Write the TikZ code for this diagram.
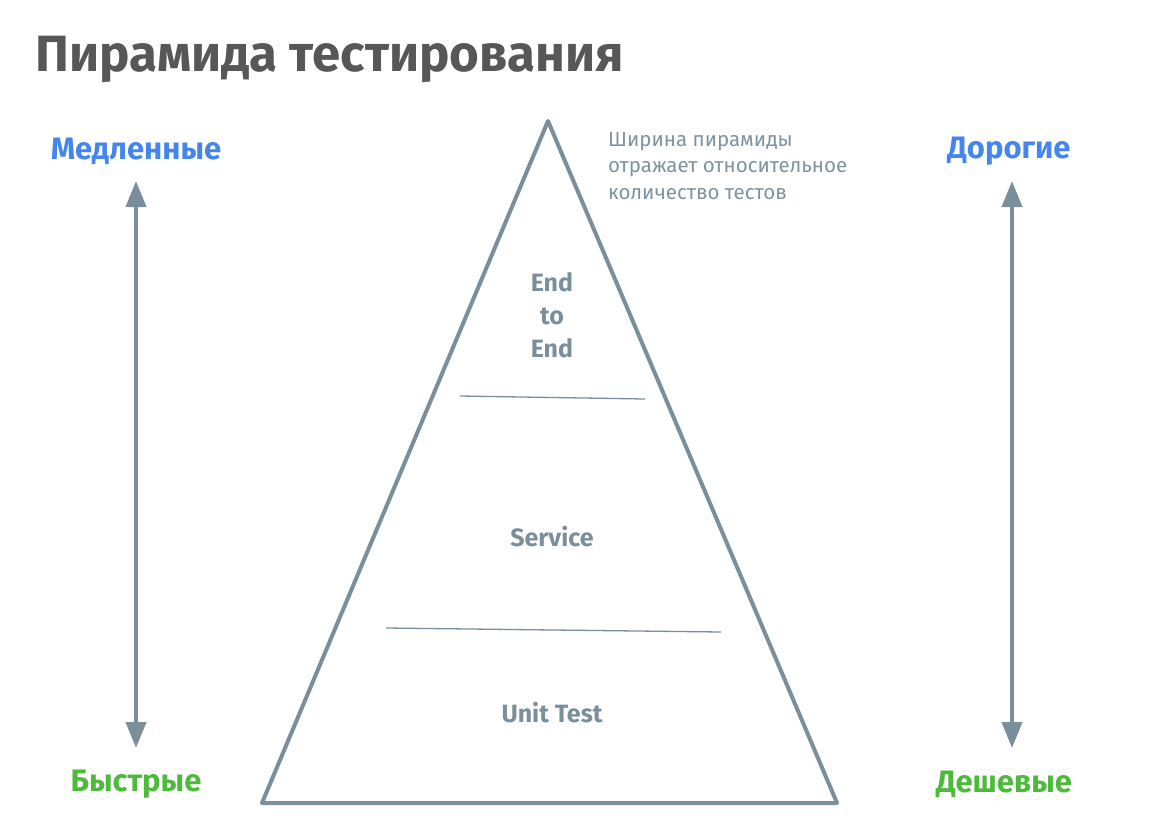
\documentclass[tikz,border=0pt]{standalone}
\usepackage{fontspec}
\setmainfont{Fira Sans}
\usepackage{tikz}
\usetikzlibrary{arrows.meta,positioning}
\definecolor{TGray}{HTML}{575757}
\definecolor{TBlue}{HTML}{4485F0}
\definecolor{TGreen}{HTML}{4DBA3B}
\definecolor{Slate}{HTML}{7A8F9B}
\definecolor{Note}{HTML}{7F929E}

\begin{document}
\begin{tikzpicture}[x=1pt,y=-1pt,
  lbl/.style={font=\fontsize{31}{34}\selectfont\bfseries},
  lvl/.style={text=Slate,font=\fontsize{25}{33}\selectfont\bfseries,align=center},
  axis/.style={Slate,line width=4pt,{Triangle[width=20pt,length=26pt]}-{Triangle[width=20pt,length=26pt]}}]
\useasboundingbox (0,0) rectangle (1165,836);
\node[TGray,anchor=base west,inner sep=0pt,font=\fontsize{51}{60}\selectfont\bfseries] (title) at (35,71) {Пирамида тестирования};
% pyramid
\coordinate (apex) at (548,121);
\coordinate (bl) at (262,803);
\coordinate (br) at (837,803);
\draw[Slate,line width=4pt,line join=round] (apex) -- (br) -- (bl) -- cycle;
\draw[Slate,line width=1.3pt] (460,396) -- (645,399);
\draw[Slate,line width=1.3pt] (386,628) -- (721,632);
\node[lvl] (e2e) at (552,315) {End\\to\\End};
\node[lvl] (svc) at (552,537) {Service};
\node[lvl] (unit) at (552,713) {Unit Test};
\node[Note,anchor=north west,align=left,inner sep=0pt,font=\fontsize{20.5}{26.5}\selectfont] (note) at (608,132) {Ширина пирамиды\\отражает относительное\\количество тестов};
% speed axis
\node[lbl,TBlue] (slow) at (136,151) {Медленные};
\node[lbl,TGreen] (fast) at (136,784) {Быстрые};
\coordinate (s1) at (136,181);
\coordinate (s2) at (136,748);
\draw[axis] (s2) -- (s1);
% cost axis
\node[lbl,TBlue] (dear) at (1009,151) {Дорогие};
\node[lbl,TGreen] (cheap) at (1004,784) {Дешевые};
\coordinate (c1) at (1012,181);
\coordinate (c2) at (1012,748);
\draw[axis] (c2) -- (c1);
\end{tikzpicture}
\end{document}
